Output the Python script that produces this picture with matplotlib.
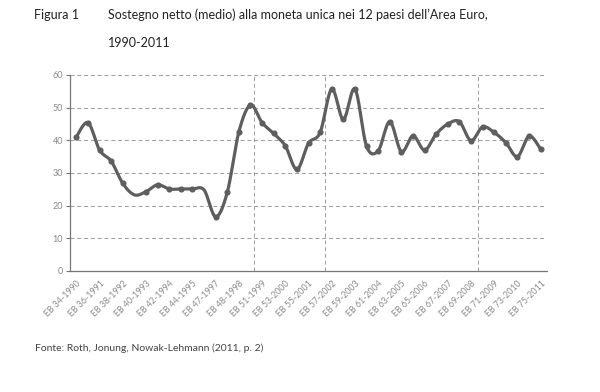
import numpy as np
import matplotlib.pyplot as plt

# Eurobarometer waves (label shown on every other wave)
tick_labels = ["EB 34-1990", "EB 36-1991", "EB 38-1992", "EB 40-1993", "EB 42-1994",
               "EB 44-1995", "EB 47-1997", "EB 48-1998", "EB 51-1999", "EB 53-2000",
               "EB 55-2001", "EB 57-2002", "EB 59-2003", "EB 61-2004", "EB 63-2005",
               "EB 65-2006", "EB 67-2007", "EB 69-2008", "EB 71-2009", "EB 73-2010",
               "EB 75-2011"]

# net support, one value per wave (41 waves)
support = [41.1, 45.4, 37.0, 33.6, 26.8, 23.3, 24.3, 26.4, 25.1, 25.1,
           25.1, 24.8, 16.6, 24.1, 42.6, 50.8, 45.4, 42.1, 38.3, 31.1,
           39.1, 42.4, 55.7, 46.4, 55.7, 38.2, 36.8, 45.7, 36.5, 41.4,
           37.0, 41.9, 45.0, 45.7, 39.9, 44.1, 42.4, 39.3, 35.0, 41.3, 37.3]

# waves with no visible marker
no_marker = [5, 11]

# vertical reference lines (between waves)
events = [15.3, 21.4, 34.6]

x = np.arange(len(support))
y = np.array(support, dtype=float)


def catmull_rom(px, py, n=20):
    # smooth line through the points, like the spreadsheet "smoothed line"
    px = np.concatenate([[px[0]], px, [px[-1]]])
    py = np.concatenate([[py[0]], py, [py[-1]]])
    t = np.linspace(0, 1, n, endpoint=False)
    xs, ys = [], []
    for i in range(1, len(px) - 2):
        for p, out in ((px, xs), (py, ys)):
            p0, p1, p2, p3 = p[i - 1], p[i], p[i + 1], p[i + 2]
            out.append(0.5 * (2 * p1 + (-p0 + p2) * t
                              + (2 * p0 - 5 * p1 + 4 * p2 - p3) * t ** 2
                              + (-p0 + 3 * p1 - 3 * p2 + p3) * t ** 3))
    xs.append([px[-2]])
    ys.append([py[-2]])
    return np.concatenate(xs), np.concatenate(ys)


fam = ['Lato', 'DejaVu Sans']
line_col = '#5e5e5e'
grid_col = '#9a9a9a'
text_col = '#8a8a8a'

fig = plt.figure(figsize=(6, 3.92), dpi=100)
ax = fig.add_axes([0.1167, 0.3087, 0.795, 0.5])

sx, sy = catmull_rom(x.astype(float), y)
ax.plot(sx, sy, color=line_col, lw=2.3, solid_capstyle='round', zorder=3)
mk = [i for i in range(len(x)) if i not in no_marker]
ax.plot(x[mk], y[mk], 'o', color=line_col, ms=3.4, zorder=4)

for e in events:
    ax.axvline(e, color=grid_col, lw=0.7, ls=(0, (4, 3)), zorder=1)

ax.set_ylim(0, 60)
ax.set_yticks(np.arange(0, 61, 10))
ax.yaxis.grid(True, color=grid_col, lw=0.7, ls=(0, (4, 3)))
ax.set_axisbelow(True)
ax.set_xlim(-0.55, len(x) - 0.45)
ax.set_xticks(x[::2])
ax.set_xticklabels(tick_labels, rotation=45, ha='right', rotation_mode='anchor',
                   fontsize=6.3, color=text_col, family=fam)
for lab in ax.get_yticklabels():
    lab.set_fontsize(6.5)
    lab.set_color(text_col)
    lab.set_family(fam)
ax.tick_params(axis='x', length=0, pad=6)
ax.tick_params(axis='y', length=3, color='#777777', pad=2)

for s in ['top', 'right']:
    ax.spines[s].set_visible(False)
ax.spines['left'].set_color('#777777')
ax.spines['bottom'].set_color('#777777')
ax.spines['left'].set_linewidth(0.9)
ax.spines['bottom'].set_linewidth(0.9)

fig.text(0.056, 0.962, "Figura 1", fontsize=9, color='#222222', va='center', family=fam)
fig.text(0.18, 0.962, "Sostegno netto (medio) alla moneta unica nei 12 paesi dell\u2019Area Euro,",
         fontsize=9, color='#222222', va='center', family=fam)
fig.text(0.18, 0.89, "1990-2011", fontsize=9, color='#222222', va='center', family=fam)
fig.text(0.058, 0.112, "Fonte: Roth, Jonung, Nowak-Lehmann (2011, p. 2)",
         fontsize=7.5, color='#444444', va='center', family=fam)

fig.savefig('out.png', dpi=100)
